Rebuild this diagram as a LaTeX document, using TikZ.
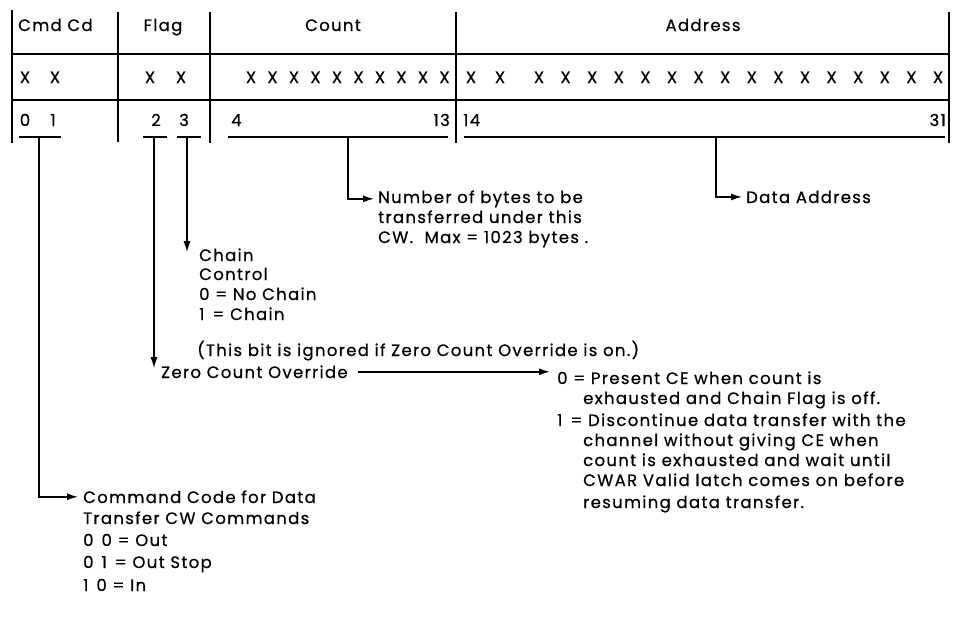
\documentclass[tikz,border=0pt]{standalone}
\usepackage{fontspec}
\setmainfont{Poppins}[LetterSpace=8,FakeBold=0.6]
\usetikzlibrary{arrows.meta}
\newcommand{\dg}{\hspace{8pt}}
\begin{document}
\begin{tikzpicture}[x=1pt,y=-1pt,
  tbl/.style={line width=1.8pt},
  ul/.style={line width=1.6pt},
  conn/.style={line width=1.5pt,-{Latex[length=11pt,width=7pt]}},
  txt/.style={inner sep=0pt,anchor=base west,font=\fontsize{16.5}{20}\selectfont},
  ctxt/.style={inner sep=0pt,anchor=base,font=\fontsize{16.5}{20}\selectfont},
  rtxt/.style={inner sep=0pt,anchor=base east,font=\fontsize{16.5}{20}\selectfont},
]
\useasboundingbox (0,0) rectangle (955,616);
% table frame
\draw[tbl] (12,10) -- (12,143);
\draw[tbl] (118,12) -- (118,142);
\draw[tbl] (210,12) -- (210,143);
\draw[tbl] (456,12) -- (456,143);
\draw[tbl] (949,12) -- (949,143);
\draw[tbl] (12,54) -- (949,54);
\draw[tbl] (12,100) -- (949,100);
% headers
\node[txt]  (hcmd)  at (18,31)  {Cmd Cd};
\node[ctxt] (hflag) at (163,31) {Flag};
\node[ctxt] (hcnt)  at (333,31) {Count};
\node[ctxt] (haddr) at (703,31) {Address};
% X row
\foreach \x [count=\i] in {25,55,150,181} \node[ctxt] (xa\i) at (\x,83) {X};
\foreach \i in {0,...,9} \node[ctxt] (xc\i) at (251+21.5*\i,83) {X};
\foreach \x [count=\i] in {471,500} \node[ctxt] (xb\i) at (\x,83) {X};
\foreach \i in {0,...,15} \node[ctxt] (xd\i) at (539+26.6*\i,83) {X};
% bit numbers
\node[ctxt] (b0) at (25,126) {0};
\node[ctxt] (b1) at (53,126) {1};
\node[ctxt] (b2) at (156,126) {2};
\node[ctxt] (b3) at (184,126) {3};
\node[txt]  (b4) at (231,126) {4};
\node[rtxt] (b13) at (450,126) {13};
\node[txt]  (b14) at (463,126) {14};
\node[rtxt] (b31) at (946,126) {31};
% underlines
\coordinate (u01a) at (19,137);  \coordinate (u01b) at (61,137);
\coordinate (u2a) at (143,137);  \coordinate (u2b) at (167,137);
\coordinate (u3a) at (177,137);  \coordinate (u3b) at (201,137);
\coordinate (uca) at (228,137);  \coordinate (ucb) at (448,137);
\coordinate (uda) at (464,137);  \coordinate (udb) at (945,137);
\draw[ul] (u01a) -- (u01b);
\draw[ul] (u2a) -- (u2b);
\draw[ul] (u3a) -- (u3b);
\draw[ul] (uca) -- (ucb);
\draw[ul] (uda) -- (udb);
\coordinate (s01) at (39,137);
\coordinate (s2) at (154,137);
\coordinate (s3) at (187,137);
\coordinate (sc) at (348,137);
\coordinate (sd) at (716,137);
% count description
\node[txt] (n1) at (378,203) {Number of bytes to be};
\node[txt] (n2) at (378,223) {transferred under this};
\node[txt] (n3) at (378,243) {CW.~~Max = 1023 bytes .};
\node[txt] (da) at (746,203) {Data Address};
% chain control
\node[txt] (c1) at (199,261) {Chain};
\node[txt] (c2) at (199,280) {Control};
\node[txt] (c3) at (199,300) {0 = No Chain};
\node[txt] (c4) at (199,320) {1\dg= Chain};
\node[txt] (c5) at (197,356) {(This bit is ignored if Zero Count Override is on.)};
% zero count override
\node[txt] (z0) at (161,378) {Zero Count Override};
\node[txt] (r1) at (557,384) {0 = Present CE when count is};
\node[txt] (r2) at (583,404) {exhausted and Chain Flag is off.};
\node[txt] (r3) at (557,426) {1\dg= Discontinue data transfer with the};
\node[txt] (r4) at (583,446) {channel without giving CE when};
\node[txt] (r5) at (583,466) {count is exhausted and wait until};
\node[txt] (r6) at (583,486) {CWAR Valid latch comes on before};
\node[txt] (r7) at (583,508) {resuming data transfer.};
% command code
\node[txt] (k1) at (83,503) {Command Code for Data};
\node[txt] (k2) at (83,524) {Transfer CW Commands};
\node[txt] (k3) at (83,546) {0\dg0 = Out};
\node[txt] (k4) at (83,568) {0\dg1\dg= Out Stop};
\node[txt] (k5) at (83,591) {1\dg0 = In};
% connectors
\draw[conn] (sc) |- ([xshift=-4pt]n1.west);
\draw[conn] (sd) |- ([xshift=-4pt]da.west);
\draw[conn] (s3) -- ([yshift=-4pt]s3 |- c1.north);
\draw[conn] (s2) -- ([yshift=-3pt]s2 |- z0.north);
\draw[conn] (z0.east) ++(10,0) coordinate (zs) -- ([xshift=-7pt]r1.west |- zs);
\draw[conn] (s01) |- ([xshift=-5pt]k1.west);
\end{tikzpicture}
\end{document}
